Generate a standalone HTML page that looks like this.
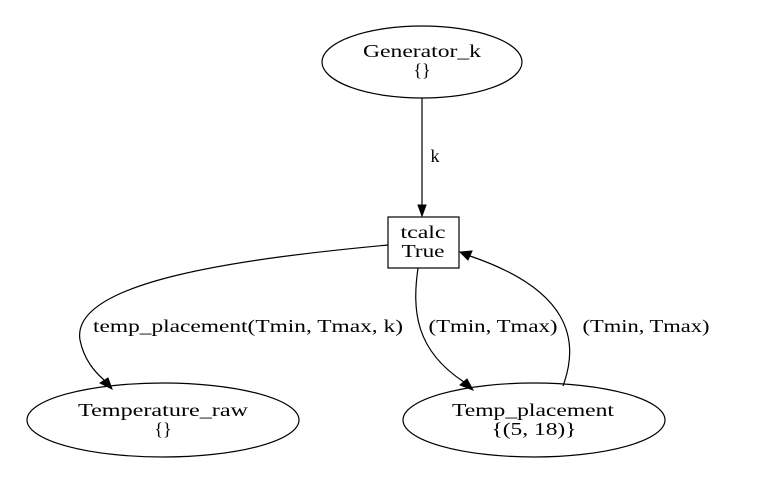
<!DOCTYPE html>
<html><head><style>body{margin:0;background:#fff}</style></head><body>
<svg width="780" height="485" xmlns="http://www.w3.org/2000/svg" style="font-family:'Liberation Serif',serif" font-size="18" text-anchor="middle">
<rect width="780" height="485" fill="#fff"/>
<g fill="none" stroke="#000" stroke-width="1.2">
<ellipse cx="422" cy="62" rx="100" ry="36"/>
<rect x="388" y="217" width="71" height="51"/>
<ellipse cx="163" cy="420" rx="136" ry="37"/>
<ellipse cx="534" cy="420" rx="131" ry="37"/>
<path d="M422,98 L422,205"/>
<path d="M388,245 C250,258 70,280 80,340 C84,360 95,372 104,380"/>
<path d="M418,268 C412,310 415,350 464,382"/>
<path d="M563,386 C580,340 570,290 470,256"/>
</g>
<g fill="#000" stroke="#000">
<polygon points="418,205 426,205 422,216"/>
<polygon points="100,383 108,378 112,389"/>
<polygon points="460,385 467,379 473,390"/>
<polygon points="472,251 468,260 460,252"/>
</g>
<text x="422" y="57" textLength="118" lengthAdjust="spacingAndGlyphs">Generator_k</text>
<text x="422" y="76">{}</text>
<text x="435" y="162">k</text>
<text x="423" y="238" textLength="45" lengthAdjust="spacingAndGlyphs">tcalc</text>
<text x="423" y="257" textLength="43" lengthAdjust="spacingAndGlyphs">True</text>
<text x="248" y="332" textLength="310" lengthAdjust="spacingAndGlyphs">temp_placement(Tmin, Tmax, k)</text>
<text x="493" y="332" textLength="129" lengthAdjust="spacingAndGlyphs">(Tmin, Tmax)</text>
<text x="646" y="332" textLength="127" lengthAdjust="spacingAndGlyphs">(Tmin, Tmax)</text>
<text x="163" y="416" textLength="170" lengthAdjust="spacingAndGlyphs">Temperature_raw</text>
<text x="163" y="435">{}</text>
<text x="533" y="416" textLength="162" lengthAdjust="spacingAndGlyphs">Temp_placement</text>
<text x="534" y="435" textLength="85" lengthAdjust="spacingAndGlyphs">{(5, 18)}</text>
</svg>
</body></html>
